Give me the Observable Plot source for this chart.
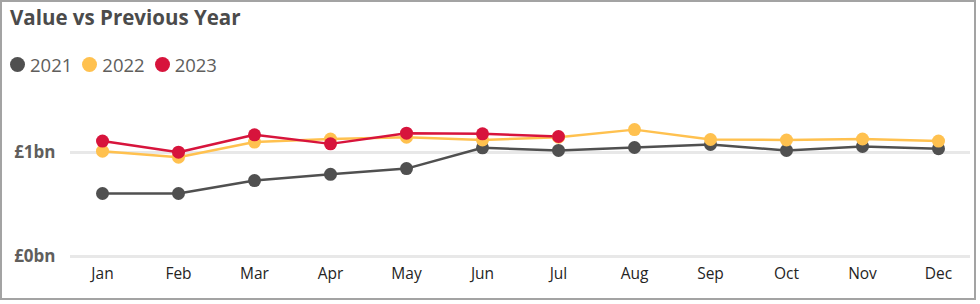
<!DOCTYPE html>
<html>
<head>
<meta charset="utf-8">
<script src="https://cdn.jsdelivr.net/npm/d3@7"></script>
<script src="https://cdn.jsdelivr.net/npm/@observablehq/plot@0.6"></script>
<style>
  body { margin: 0; background: #fff; font-family: "Open Sans", "Noto Sans", sans-serif; }
  #wrap { position: relative; width: 980px; height: 304px; overflow: hidden; }
  #frame { position: absolute; left: 0; top: 0; width: 976px; height: 300px; box-sizing: border-box; border: 2px solid #a3a3a3; }
  #title { position: absolute; left: 10px; top: 3px; font-size: 20.5px; font-weight: 700; color: #4b4b4b; white-space: nowrap; }
  #legend { position: absolute; left: 10px; top: 52px; display: flex; align-items: center; font-size: 18.5px; color: #605E5C; }
  .item { display: flex; align-items: center; margin-right: 10px; }
  .sw { width: 15px; height: 15px; border-radius: 50%; margin-right: 5px; }
  #chart { position: absolute; left: 0; top: 0; }
</style>
</head>
<body>
<div id="wrap">
  <div id="frame"></div>
  <div id="title">Value vs Previous Year</div>
  <div id="legend"></div>
  <div id="chart"></div>
</div>
<script>
const months = ["Jan","Feb","Mar","Apr","May","Jun","Jul","Aug","Sep","Oct","Nov","Dec"];
const years = ["2021","2022","2023"];
const colors = ["#505050","#FFC14F","#D7143C"];
const values2021 = [0.606, 0.606, 0.73, 0.79, 0.845, 1.045, 1.02, 1.048, 1.077, 1.02, 1.058, 1.037];
const values2022 = [1.013, 0.955, 1.10, 1.13, 1.147, 1.12, 1.147, 1.22, 1.125, 1.12, 1.13, 1.11];
const values2023 = [1.11, 1.003, 1.17, 1.083, 1.186, 1.18, 1.154];
const yTicks = [0, 1];

const series = [values2021, values2022, values2023];
const data = [];
series.forEach((vals, i) => vals.forEach((v, j) => data.push({year: years[i], month: months[j], value: v})));

const legend = document.getElementById("legend");
years.forEach((y, i) => {
  const it = document.createElement("div");
  it.className = "item";
  it.innerHTML = `<span class="sw" style="background:${colors[i]}"></span><span>${y}</span>`;
  legend.appendChild(it);
});

const chart = Plot.plot({
  width: 980,
  height: 304,
  marginLeft: 70,
  marginRight: 10,
  marginTop: 90,
  marginBottom: 48,
  style: {background: "transparent", fontFamily: "'Open Sans', sans-serif"},
  x: {type: "point", domain: months, padding: 0, insetLeft: 30, insetRight: 30},
  y: {domain: [0, 1], range: [256, 152]},
  color: {domain: years, range: colors},
  marks: [
    Plot.ruleY(yTicks, {stroke: "#e8e8e8", strokeWidth: 3}),
    Plot.axisY(yTicks, {tickSize: 0, tickPadding: 15, tickFormat: d => `£${d}bn`, fontSize: 17, fontWeight: "bold", fill: "#605E5C", label: null}),
    Plot.axisX({tickSize: 0, tickPadding: 11, fontSize: 15.5, fill: "#252423", label: null}),
    Plot.line(data, {x: "month", y: "value", z: "year", stroke: "year", strokeWidth: 2.5}),
    Plot.dot(data, {x: "month", y: "value", fill: "year", r: 6.5})
  ]
});
document.getElementById("chart").appendChild(chart);
</script>
</body>
</html>
